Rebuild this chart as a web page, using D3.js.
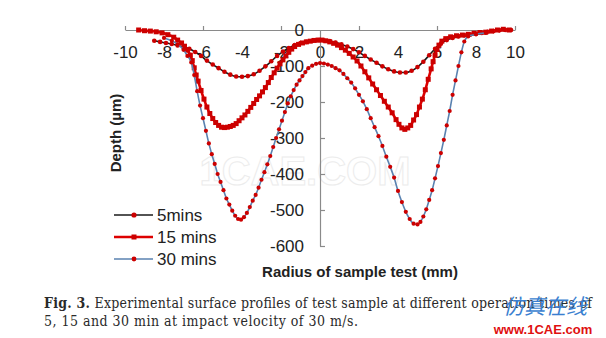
<!DOCTYPE html>
<html><head><meta charset="utf-8">
<script src="https://cdn.jsdelivr.net/npm/d3@7"></script>
<style>
html,body{margin:0;padding:0;background:#fff;}
svg{display:block;}
</style></head>
<body>
<svg id="chart" width="606" height="338"></svg>
<script>
// ---- data ----
const xTickLabels = [-10,-8,-6,-4,-2,0,2,4,6,8,10];
const xTickMarks = [-10,-6,-2,2,6,10];
const yTickLabels = [0,-100,-200,-300,-400,-500,-600];
const seriesNames = ["5mins","15 mins","30 mins"];

const r5 = [-8.5,-8.2,-7.9,-7.6,-7.3,-7.0,-6.7,-6.4,-6.1,-5.8,-5.5,-5.2,-4.9,-4.6,-4.3,-4.0,-3.7,-3.4,-3.1,-2.8,-2.5,-2.2,-1.9,-1.6,-1.3,-1.0,-0.7,-0.4,-0.1,0.2,0.5,0.8,1.1,1.4,1.7,2.0,2.3,2.6,2.9,3.2,3.5,3.8,4.1,4.4,4.7,5.0,5.3,5.6,5.9,6.2,6.5,6.8,7.1,7.4,7.7,8.0,8.3,8.6,8.9,9.2,9.5,9.8];
const d5 = [-30,-33,-36,-39,-43,-47,-52,-61,-72,-85,-96,-106,-116,-124,-129,-130,-128,-123,-113,-101,-87,-72,-60,-50,-42,-36,-33,-30,-28,-29,-31,-35,-40,-46,-53,-62,-72,-82,-91,-101,-109,-115,-118,-118,-113,-103,-88,-70,-52,-38,-28,-22,-18,-15,-13,-11,-8,-5,-3,-1,0,0];

const r15 = [-9.3,-9.0,-8.7,-8.4,-8.1,-7.8,-7.5,-7.3,-7.1,-6.95,-6.8,-6.65,-6.55,-6.45,-6.35,-6.25,-6.1,-5.95,-5.8,-5.65,-5.5,-5.35,-5.2,-5.05,-4.9,-4.75,-4.6,-4.45,-4.3,-4.15,-4.0,-3.85,-3.7,-3.55,-3.4,-3.25,-3.1,-2.95,-2.8,-2.65,-2.5,-2.35,-2.2,-2.05,-1.9,-1.75,-1.6,-1.45,-1.3,-1.1,-0.9,-0.7,-0.5,-0.3,-0.1,0.1,0.3,0.5,0.7,0.9,1.1,1.3,1.5,1.7,1.9,2.1,2.3,2.5,2.7,2.9,3.1,3.3,3.5,3.7,3.9,4.05,4.2,4.35,4.5,4.65,4.8,4.95,5.1,5.25,5.4,5.55,5.7,5.8,5.9,6.0,6.1,6.25,6.45,6.7,7.0,7.3,7.6,7.9,8.2,8.5,8.8,9.1,9.4,9.7];
const d15 = [0,-2,-3,-5,-8,-13,-20,-28,-36,-45,-56,-70,-85,-105,-125,-142,-168,-192,-214,-232,-246,-257,-265,-270,-271,-270,-268,-265,-260,-252,-244,-236,-226,-215,-204,-193,-183,-172,-160,-146,-132,-119,-106,-94,-83,-72,-62,-53,-46,-40,-36,-33,-31,-29,-28,-28,-30,-33,-37,-42,-49,-56,-65,-75,-86,-100,-116,-133,-150,-166,-182,-198,-214,-230,-249,-262,-272,-276,-272,-265,-250,-235,-214,-192,-166,-137,-108,-88,-70,-54,-42,-31,-24,-19,-16,-14,-12,-9,-7,-6,-3,0,2,0];

const r30 = [-8.0,-7.6,-7.3,-7.0,-6.8,-6.6,-6.45,-6.3,-6.15,-6.0,-5.85,-5.7,-5.55,-5.4,-5.25,-5.1,-4.95,-4.8,-4.65,-4.5,-4.35,-4.2,-4.05,-3.9,-3.75,-3.6,-3.45,-3.3,-3.15,-3.0,-2.85,-2.7,-2.55,-2.4,-2.25,-2.1,-1.95,-1.8,-1.65,-1.5,-1.35,-1.2,-1.05,-0.9,-0.75,-0.6,-0.4,-0.2,0.0,0.2,0.4,0.6,0.8,1.0,1.2,1.4,1.6,1.8,2.0,2.2,2.4,2.6,2.8,3.0,3.2,3.4,3.6,3.8,4.0,4.2,4.4,4.6,4.8,5.0,5.15,5.3,5.45,5.6,5.75,5.9,6.05,6.2,6.35,6.5,6.65,6.8,6.95,7.1,7.25,7.4,7.6,8.0,8.5];
const d30 = [-22,-30,-40,-55,-72,-90,-125,-170,-210,-245,-280,-315,-345,-372,-400,-422,-445,-468,-485,-502,-516,-525,-527,-520,-508,-492,-474,-458,-438,-416,-395,-373,-350,-325,-300,-276,-252,-228,-204,-184,-167,-152,-140,-128,-117,-106,-99,-94,-92,-93,-96,-100,-106,-112,-122,-134,-146,-162,-180,-198,-220,-245,-270,-295,-322,-352,-380,-410,-447,-478,-505,-525,-538,-540,-533,-518,-498,-472,-445,-412,-378,-342,-305,-265,-225,-180,-140,-100,-62,-32,-18,-12,-8];

// ---- drawing ----
const svg = d3.select("#chart");
const x = d3.scaleLinear().domain([-10,10]).range([125,515]);
const y = d3.scaleLinear().domain([-600,0]).range([246,30]);
const axisColor = "#8a8a8a";
const markerRed = "#cc0000";
const font = "'Liberation Sans', Arial, sans-serif";
const capFont = "'DejaVu Serif Condensed', 'DejaVu Serif', serif";

// faint background watermark
svg.append("text").attr("x",305).attr("y",185).attr("text-anchor","middle")
  .attr("font-family",font).attr("font-weight","bold").attr("font-size",40)
  .attr("fill","#ffffff").attr("stroke","#ececec").attr("stroke-width",1)
  .text("1CAE.COM");

// x axis (line + upward ticks)
const gx = svg.append("g").attr("transform",`translate(0,${y(0)})`)
  .call(d3.axisTop(x).tickValues(xTickMarks).tickSize(4).tickSizeOuter(0).tickFormat(""));
gx.selectAll("path,line").attr("stroke",axisColor).attr("stroke-width",1.2);
const gxl = svg.append("g").attr("transform",`translate(0,${y(0)})`)
  .call(d3.axisBottom(x).tickValues(xTickLabels).tickSize(0).tickPadding(16).tickFormat(d=>String(d)));
gxl.select(".domain").remove();
gxl.selectAll("text").attr("font-family",font).attr("font-size",17).attr("fill","#222");

// y axis (line + right ticks)
const gy = svg.append("g").attr("transform",`translate(${x(0)},0)`)
  .call(d3.axisRight(y).tickValues(yTickLabels.filter(v=>v!==0)).tickSize(5).tickSizeOuter(0).tickFormat(""));
gy.selectAll("path,line").attr("stroke",axisColor).attr("stroke-width",1.2);
const gyl = svg.append("g").attr("transform",`translate(${x(0)},0)`)
  .call(d3.axisLeft(y).tickValues(yTickLabels).tickSize(0).tickPadding(16).tickFormat(d=>String(d)));
gyl.select(".domain").remove();
gyl.selectAll("text").attr("font-family",font).attr("font-size",17).attr("fill","#222");

// series
const series = [
  {r:r5, d:d5, line:"#1a1a1a", lw:1.6, shape:"circle", size:2.3},
  {r:r15, d:d15, line:"#dd0000", lw:2.6, shape:"square", size:5},
  {r:r30, d:d30, line:"#5a82b0", lw:1.6, shape:"circle", size:2.1}
];
const lineGen = d3.line().x(p=>x(p[0])).y(p=>y(p[1])).curve(d3.curveMonotoneX);
series.forEach(s=>{
  const pts = s.r.map((v,i)=>[v,s.d[i]]);
  svg.append("path").datum(pts).attr("d",lineGen).attr("fill","none")
    .attr("stroke",s.line).attr("stroke-width",s.lw);
  if (s.shape==="circle") {
    svg.append("g").selectAll("circle").data(pts).join("circle")
      .attr("cx",p=>x(p[0])).attr("cy",p=>y(p[1])).attr("r",s.size).attr("fill",markerRed);
  } else {
    svg.append("g").selectAll("rect").data(pts).join("rect")
      .attr("x",p=>x(p[0])-s.size/2).attr("y",p=>y(p[1])-s.size/2)
      .attr("width",s.size).attr("height",s.size).attr("fill",markerRed);
  }
});

// axis titles
svg.append("text").attr("x",360).attr("y",277).attr("text-anchor","middle")
  .attr("font-family",font).attr("font-weight","bold").attr("font-size",15).attr("fill","#222")
  .text("Radius of sample test (mm)");
svg.append("text").attr("transform","translate(121,133) rotate(-90)").attr("text-anchor","middle")
  .attr("font-family",font).attr("font-weight","bold").attr("font-size",15).attr("fill","#222")
  .text("Depth (µm)");

// legend
const legY = [215,237,259];
series.forEach((s,i)=>{
  const g = svg.append("g");
  g.append("line").attr("x1",114).attr("x2",153).attr("y1",legY[i]).attr("y2",legY[i])
    .attr("stroke",s.line).attr("stroke-width",s.lw);
  if (s.shape==="circle") g.append("circle").attr("cx",134).attr("cy",legY[i]).attr("r",s.size+0.3).attr("fill",markerRed);
  else g.append("rect").attr("x",134-s.size/2).attr("y",legY[i]-s.size/2).attr("width",s.size).attr("height",s.size).attr("fill",markerRed);
  g.append("text").attr("x",157).attr("y",legY[i]+6).attr("font-family",font).attr("font-size",17).attr("fill","#222")
    .text(seriesNames[i]);
});

// caption
const cap = svg.append("text").attr("x",44).attr("y",308).attr("font-family",capFont)
  .attr("font-size",14).attr("fill","#2a2a2a")
  .attr("textLength",548).attr("lengthAdjust","spacing");
cap.append("tspan").attr("font-weight","bold").text("Fig. 3.");
cap.append("tspan").text(" Experimental surface profiles of test sample at different operation times of");
svg.append("text").attr("x",44).attr("y",326).attr("font-family",capFont)
  .attr("font-size",14).attr("fill","#2a2a2a")
  .attr("textLength",314).attr("lengthAdjust","spacing")
  .text("5, 15 and 30 min at impact velocity of 30 m/s.");

// site watermark
svg.append("text").attr("x",545).attr("y",314).attr("text-anchor","middle")
  .attr("font-family","'Noto Sans CJK SC', sans-serif").attr("font-size",21).attr("fill","#3a7fd0")
  .attr("font-style","italic").text("仿真在线");
svg.append("text").attr("x",543).attr("y",334).attr("text-anchor","middle")
  .attr("font-family",font).attr("font-weight","bold").attr("font-size",13).attr("fill","#e01010")
  .text("www.1CAE.com");
</script>
</body></html>
